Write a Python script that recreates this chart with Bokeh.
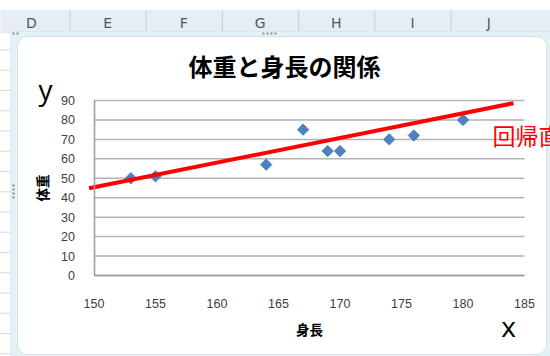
from bokeh.plotting import figure
from bokeh.models import Range1d, Label, BoxAnnotation, FixedTicker, ColumnDataSource, LinearAxis
from bokeh.embed import file_html
from bokeh.resources import INLINE
import math

# Height (cm) and weight (kg) samples
height_cm = [153, 155, 164, 167, 169, 170, 174, 176, 180]
weight_kg = [50, 51, 57, 75, 64, 64, 70, 72, 80]

# Hand-drawn regression line end points
reg_x = [149.6, 184.1]
reg_y = [44.9, 88.6]

x_ticks = [150, 155, 160, 165, 170, 175, 180, 185]
y_ticks = [0, 10, 20, 30, 40, 50, 60, 70, 80, 90]
col_letters = ["D", "E", "F", "G", "H", "I", "J"]

JP = "Noto Sans CJK JP"
W, H = 550, 356

# plot area placement on the page (pixels)
PL, PR, PT, PB = 93.5, 524.0, 100.0, 275.0
xs = (PR - PL) / (x_ticks[-1] - x_ticks[0])
ys = (PB - PT) / (y_ticks[-1] - y_ticks[0])
x_range = Range1d(x_ticks[0] - PL / xs, x_ticks[-1] + (W - PR) / xs)
y_range = Range1d(y_ticks[0] - (H - PB) / ys, y_ticks[-1] + PT / ys)

p = figure(width=W, height=H, output_backend="svg", toolbar_location=None,
           x_range=x_range, y_range=y_range, x_axis_location=None, y_axis_location=None,
           min_border=0)
p.border_fill_color = "white"
p.background_fill_color = "white"
p.outline_line_color = None
p.xgrid.visible = False
p.ygrid.visible = False


def cbox(left, right, top, bottom, **kw):
    p.add_layout(BoxAnnotation(left=left, right=right, top=top, bottom=bottom,
                               left_units="canvas", right_units="canvas",
                               top_units="canvas", bottom_units="canvas",
                               fill_alpha=1, level="underlay", **kw))


# spreadsheet backdrop: column header row, separators and row lines
cbox(0, W, 10, 32, fill_color="#E7EDF5", line_color="#C5CFDD", line_width=1)
for i in range(6):
    sx = 69 + i * 76.2
    cbox(sx, sx + 1, 10, 32, fill_color="#C5CFDD", line_color=None)
for i, letter in enumerate(col_letters):
    p.add_layout(Label(x=31 + i * 76.2, y=22, x_units="canvas", y_units="canvas", text=letter,
                       text_font="DejaVu Sans", text_font_size="14px", text_color="#4A5868",
                       text_align="center", text_baseline="middle"))
for i in range(16):
    ry = 49 + i * 20.25
    cbox(0, 10, ry, ry + 1, fill_color="#D0D7E5", line_color=None)

# chart selection strip, handles and rounded chart area
cbox(10, W, 31, H, fill_color="#E2F3F6", line_color="#B9D8DE", line_width=1)
for i in range(4):
    cbox(262 + i * 4, 264 + i * 4, 32, 34, fill_color="#8A8A8A", line_color=None)
    cbox(12, 14, 184 + i * 4, 186 + i * 4, fill_color="#8A8A8A", line_color=None)
cbox(12, 14, 32, 34, fill_color="#8A8A8A", line_color=None)
cbox(16, 18, 32, 34, fill_color="#8A8A8A", line_color=None)
cbox(17, 546, 36, 354, fill_color="white", line_color="#A6A6A6", line_width=1,
     border_radius=10)

# horizontal gridlines across the plot area
p.segment(x0=[x_ticks[0]] * len(y_ticks), x1=[x_ticks[-1]] * len(y_ticks),
          y0=y_ticks, y1=y_ticks, line_color="#B3B3B3", line_width=1.5)

# axes pinned to the plot area's edges
xaxis = LinearAxis(fixed_location=y_ticks[0], bounds=(x_ticks[0], x_ticks[-1]),
                   ticker=FixedTicker(ticks=x_ticks), axis_label="身長")
yaxis = LinearAxis(fixed_location=x_ticks[0], bounds=(y_ticks[0], y_ticks[-1]),
                   ticker=FixedTicker(ticks=y_ticks), axis_label="体重")
for ax in (xaxis, yaxis):
    ax.axis_line_color = "#9A9A9A"
    ax.axis_line_width = 1.5
    ax.major_tick_line_color = None
    ax.minor_tick_line_color = None
    ax.major_label_text_font = "Liberation Sans"
    ax.major_label_text_font_size = "12.5px"
    ax.major_label_text_color = "#404040"
    ax.axis_label_text_font = JP
    ax.axis_label_text_font_size = "13.5px"
    ax.axis_label_text_font_style = "bold"
    ax.axis_label_text_color = "black"
xaxis.major_label_standoff = 17
yaxis.major_label_standoff = 13
xaxis.axis_label_standoff = 8
yaxis.axis_label_standoff = 7
p.add_layout(xaxis, "below")
p.add_layout(yaxis, "left")

src = ColumnDataSource(dict(x=height_cm, y=weight_kg))
p.scatter("x", "y", source=src, marker="square", angle=math.pi / 4, size=8,
          fill_color="#4F81BD", line_color="#4F81BD")
p.line(reg_x, reg_y, line_color="#FF0000", line_width=4)

p.add_layout(Label(x=284, y=65, x_units="canvas", y_units="canvas", text="体重と身長の関係",
                   text_font=JP, text_font_size="24px", text_font_style="bold",
                   text_color="black", text_align="center", text_baseline="middle"))
p.add_layout(Label(x=492, y=134, x_units="canvas", y_units="canvas", text="回帰直線",
                   text_font=JP, text_font_size="23px", text_color="#FF0000",
                   text_align="left", text_baseline="middle"))
p.add_layout(Label(x=45, y=88, x_units="canvas", y_units="canvas", text="y",
                   text_font="Open Sans", text_font_size="28px", text_color="black",
                   text_align="center", text_baseline="middle"))
p.add_layout(Label(x=508, y=325, x_units="canvas", y_units="canvas", text="x",
                   text_font="Open Sans", text_font_size="28px", text_color="black",
                   text_align="center", text_baseline="middle"))

open("out.html", "w").write(file_html(p, INLINE))
